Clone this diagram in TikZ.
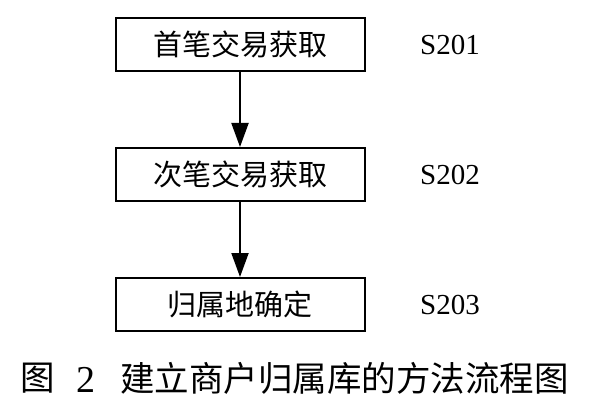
\documentclass[tikz,border=0pt]{standalone}
\usepackage{fontspec}
\newfontfamily\cjk{Noto Sans CJK SC}
\setmainfont{Liberation Serif}
\usetikzlibrary{arrows.meta}
\tikzset{
  stepbox/.style={draw=black, line width=2pt, minimum width=249pt, minimum height=53pt, inner sep=0pt, font=\cjk\fontsize{29}{31}\selectfont},
  steplabel/.style={inner sep=0pt, font=\fontsize{29}{32}\selectfont},
  flow/.style={line width=2pt, -{Triangle[length=24pt,width=17pt]}},
  capfont/.style={inner sep=0pt, font=\cjk\fontsize{34.5}{37}\selectfont}
}
\begin{document}
\begin{tikzpicture}[x=1pt,y=-1pt]
\useasboundingbox[fill=white] (0,0) rectangle (594,409);
\node[stepbox] (b1) at (240,44.5) {首笔交易获取};
\node[stepbox] (b2) at (240,174.5) {次笔交易获取};
\node[stepbox] (b3) at (240,304.5) {归属地确定};
\node[steplabel] (l1) at (450,45) {S201};
\node[steplabel] (l2) at (450,175) {S202};
\node[steplabel] (l3) at (450,305) {S203};
\draw[flow] (b1) -- (b2);
\draw[flow] (b2) -- (b3);
\node[capfont, anchor=west] (c1) at (20,378) {图};
\node[inner sep=0pt, font=\fontsize{38}{40}\selectfont, anchor=west] (c2) at (76,380) {2};
\node[capfont, anchor=west] (c3) at (120,378) {建立商户归属库的方法流程图};
\end{tikzpicture}
\end{document}
